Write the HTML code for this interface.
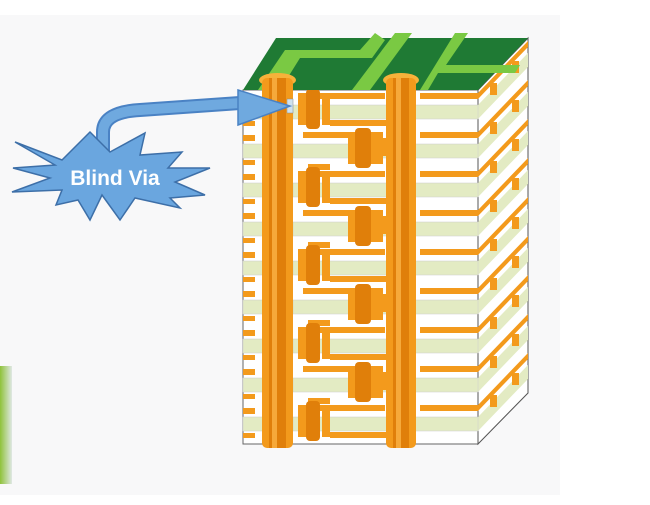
<!DOCTYPE html>
<html><head><meta charset="utf-8"><style>
html,body{margin:0;padding:0;background:#fff;width:650px;height:505px;overflow:hidden}
svg{display:block}
</style></head><body>
<svg id="s" width="650" height="505" viewBox="0 0 650 505" xmlns="http://www.w3.org/2000/svg">
<defs><linearGradient id="lg" x1="0" x2="1"><stop offset="0" stop-color="#8fc23a"/><stop offset="1" stop-color="#dfe8e4"/></linearGradient></defs>
<rect x="0" y="15" width="560" height="480" fill="#f8f8f9"/>
<rect x="0" y="366" width="12" height="118" fill="url(#lg)"/>
<!-- front face -->
<rect x="243" y="90" width="235" height="354" fill="#ffffff" stroke="#666" stroke-width="1"/>
<!-- side face -->
<polygon points="478,90 528,38 528,393 478,444" fill="#ffffff" stroke="#555" stroke-width="1"/>
<g id="side"></g>
<g id="layers"></g>
<!-- top face -->
<polygon points="243,90 276,38 528,38 478,90" fill="#1f7a34"/>
<polygon points="258,90 285,50 360,50 375,33 385,40 372,58 300,58 280,90" fill="#7ac943"/>
<polygon points="352,90 395,33 412,33 370,90" fill="#7ac943"/>
<polygon points="420,90 455,33 468,33 446,65 520,65 515,73 438,73 428,90" fill="#7ac943"/>
<!-- through vias -->
<g id="vias"></g>
<!-- arrow -->
<path d="M103,160 L103,132 Q103,112 140,110 L240,103" fill="none" stroke="#4a82c4" stroke-width="14"/>
<path d="M103,160 L103,132 Q103,112 140,110 L240,103" fill="none" stroke="#6fa9df" stroke-width="10"/>
<polygon points="238,90 290,106 238,125" fill="#6fa9df" stroke="#4a82c4" stroke-width="1.5"/>
<!-- starburst -->
<polygon points="15,142 62,160 90,132 110,152 145,133 140,155 182,152 168,168 210,168 175,182 205,195 170,198 180,208 135,198 120,220 102,195 90,220 78,200 56,205 62,190 12,192 50,178 13,168 55,165" fill="#6aa6df" stroke="#3d6fa8" stroke-width="1.5"/>
<text x="115" y="185" font-family="Liberation Sans, sans-serif" font-size="21" font-weight="bold" fill="#fff" text-anchor="middle">Blind Via</text>
</svg>
<script>
var NS="http://www.w3.org/2000/svg";
function el(p,t,a){var e=document.createElementNS(NS,t);for(var k in a)e.setAttribute(k,a[k]);document.getElementById(p).appendChild(e);return e;}
var O="#f39a1c",OD="#e07f0a",G="#e3ebc3";
for(var i=0;i<9;i++){
 var y=105+i*39;
 el("layers","rect",{x:243,y:y,width:20,height:14,fill:G,stroke:"#ccc","stroke-width":0.5});
 el("layers","rect",{x:293,y:y,width:97,height:14,fill:G,stroke:"#ccc","stroke-width":0.5});
 el("layers","rect",{x:412,y:y,width:66,height:14,fill:G,stroke:"#ccc","stroke-width":0.5});
 el("layers","rect",{x:243,y:y-9,width:12,height:6,fill:O});
 el("layers","rect",{x:243,y:y+16,width:12,height:5,fill:O});
 el("layers","rect",{x:420,y:y-12,width:58,height:6,fill:O});
 if(i%2==0){
  el("layers","rect",{x:300,y:y-12,width:85,height:6,fill:O});
  el("layers","rect",{x:298,y:y-12,width:22,height:32,fill:O});
  el("layers","rect",{x:306,y:y-16,width:14,height:40,fill:OD,rx:4});
  el("layers","rect",{x:322,y:y-6,width:8,height:26,fill:O});
  el("layers","rect",{x:330,y:y+15,width:60,height:6,fill:O});
 } else {
  el("layers","rect",{x:303,y:y-12,width:70,height:6,fill:O});
  el("layers","rect",{x:348,y:y-12,width:35,height:32,fill:O});
  el("layers","rect",{x:355,y:y-16,width:16,height:40,fill:OD,rx:4});
  el("layers","rect",{x:308,y:y+20,width:22,height:6,fill:O});
  el("layers","rect",{x:383,y:y-6,width:7,height:18,fill:O});
 }
 var y0=y, y1=y+14;
 el("side","polygon",{points:"478,"+(y0-12)+" 528,"+(y0-64)+" 528,"+(y0-58)+" 478,"+(y0-6),fill:O});
 el("side","polygon",{points:"478,"+y0+" 528,"+(y0-52)+" 528,"+(y1-52)+" 478,"+y1,fill:G});
 el("side","rect",{x:490,y:y-22,width:7,height:12,fill:O});
 el("side","rect",{x:512,y:y-44,width:7,height:12,fill:O});
}
[[262,293],[386,416]].forEach(function(v){
 el("vias","ellipse",{cx:(v[0]+v[1])/2,cy:80,rx:(v[1]-v[0])/2+3,ry:7,fill:"#f7b23a"});
 el("vias","rect",{x:v[0],y:78,width:v[1]-v[0],height:370,fill:O,rx:5});
 el("vias","rect",{x:v[0]+7,y:78,width:v[1]-v[0]-14,height:370,fill:OD});
 el("vias","rect",{x:v[0]+10,y:78,width:5,height:370,fill:"#f6a93a"});
});
el("vias","rect",{x:287,y:99,width:6,height:14,fill:"#cfe2f0",stroke:"#888","stroke-width":0.5});
</script>
</body></html>
